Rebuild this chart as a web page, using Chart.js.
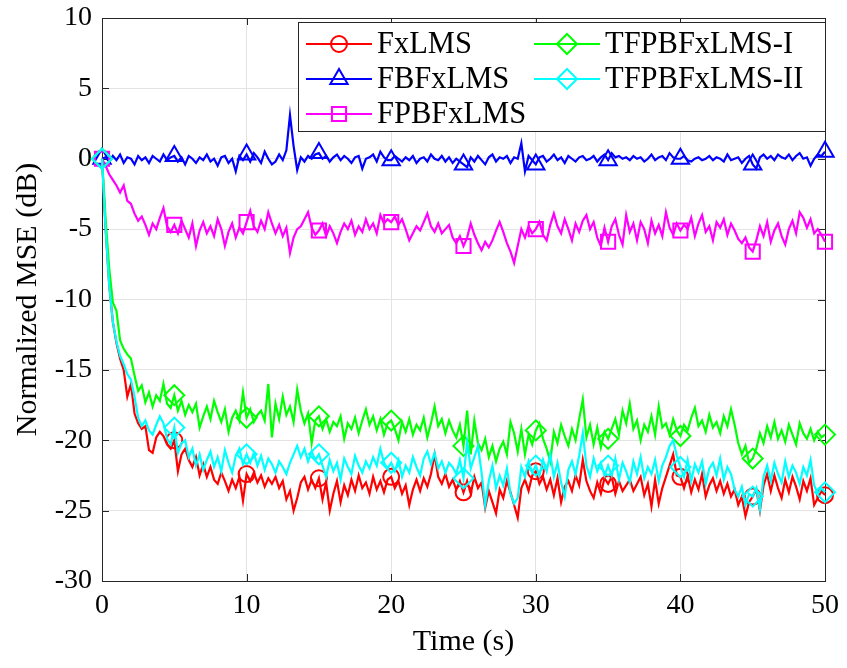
<!DOCTYPE html>
<html>
<head>
<meta charset="utf-8">
<title>Normalized MSE</title>
<script src="https://cdn.jsdelivr.net/npm/chart.js@4.4.1/dist/chart.umd.min.js"></script>
<style>
  html, body { margin: 0; padding: 0; background: #fff; }
  #wrap { width: 847px; height: 668px; }
</style>
</head>
<body>
<div id="wrap"><canvas id="mse"></canvas></div>
<script>
// time axis: one sample every 0.25 s, markers every 5 s
const times = Array.from({ length: 201 }, (_, i) => i * 0.25);
const markerEvery = 20;

const fxlms = [
  0, -5.0, -9.0, -11.6, -13.1, -14.2, -15.0, -16.9, -16.0, -18.1, -18.8, -19.2, -19.0, -20.7, -20.9, -19.8, -19.4, -19.7, -20.3, -20.6,
  -20.0, -22.2, -21.0, -20.6, -21.4, -21.9, -21.2, -22.5, -21.7, -22.6, -21.9, -22.8, -23.1, -22.3, -22.9, -23.6, -22.8, -23.4, -22.6, -24.3,
  -22.4, -22.9, -22.3, -23.0, -22.5, -23.3, -22.7, -23.1, -22.6, -23.4, -22.9, -24.2, -23.6, -25.0, -24.1, -23.0, -22.6, -23.5, -22.8, -23.4,
  -22.7, -24.2, -23.0, -25.0, -23.8, -22.9, -24.4, -23.2, -23.9, -22.8, -23.6, -22.5, -23.4, -23.0, -23.8, -22.6, -23.5, -22.9, -23.7, -22.8,
  -22.6, -23.4, -22.9, -23.8, -23.2, -24.6, -23.5, -22.8, -23.6, -22.7, -23.3, -22.4, -21.0, -22.6, -23.1, -22.4, -23.3, -22.8, -23.5, -22.9,
  -23.7, -22.9, -23.8, -22.6, -23.4, -23.0, -24.8, -23.6, -24.4, -25.2, -23.5, -24.1, -22.9, -23.7, -24.6, -25.5, -23.4, -22.8, -23.6, -22.5,
  -22.2, -23.1, -22.6, -23.5, -22.8, -23.9, -22.7, -24.4, -23.3, -22.9, -23.6, -22.5, -23.2, -21.4, -22.9, -23.6, -24.1, -23.0, -23.8, -22.7,
  -23.1, -22.6, -23.8, -22.9, -23.6, -23.2, -22.8, -23.6, -23.1, -22.6, -23.9, -23.1, -24.7, -22.8, -24.5, -23.4, -22.6, -21.8, -21.0, -22.5,
  -22.6, -23.4, -22.5, -23.7, -22.8, -23.5, -22.4, -24.0, -23.2, -22.7, -23.6, -22.9, -23.8, -23.1, -24.0, -23.5, -24.6, -24.0, -25.4, -24.4,
  -24.0, -23.5, -25.0, -23.2, -22.4, -23.6, -22.5, -23.4, -24.1, -22.8, -23.7, -22.6, -23.3, -24.2, -22.9, -23.6, -22.7, -24.6, -24.1, -23.6,
  -23.9
];

const fbfxlms = [
  0, 0.1, -0.2, 0.2, -0.1, 0.3, -0.3, 0.1, 0.0, -0.4, 0.2, -0.1, 0.1, -0.3, 0.2, 0.0, -0.2, 0.3, -0.1, 0.1,
  0.2, -0.2, 0.1, -0.4, 0.2, 0.0, -0.3, 0.1, -0.1, 0.3, -0.2, 0.0, -0.5, 0.1, 0.2, -0.3, 0.0, -0.9, 0.2, -0.1,
  0.3, -0.2, 0.4, 0.1, -0.3, 0.5, 0.0, -0.4, -0.2, 0.3, -0.1, 0.6, 3.1, 0.9, -0.8, 0.1, -0.2, 0.2, 0.0, 0.3,
  0.4, 0.0, 0.2, -0.2, 0.1, 0.3, -0.1, 0.2, 0.0, -0.3, 0.1, 0.2, -0.7, 0.0, 0.1, 0.3, -0.2, 0.5, 0.1, -0.1,
  -0.1, 0.2, 0.0, -0.2, 0.1, -0.1, 0.2, -0.3, 0.0, 0.1, -0.2, 0.3, 0.0, -0.1, 0.2, -0.2, 0.1, -0.3, 0.0, -0.2,
  -0.4, -0.6, 0.1, -0.2, 0.2, -0.1, -0.4, 0.1, 0.3, -0.2, 0.1, 0.0, 0.2, -0.3, 0.1, 0.0, 1.1, -0.9, 0.2, -0.1,
  -0.4, 0.1, 0.2, -0.2, 0.0, 0.3, -0.1, 0.1, -0.3, 0.2, 0.0, -0.2, 0.1, 0.2, -0.1, 0.0, 0.2, -0.2, 0.1, 0.3,
  -0.1, 0.4, 0.1, 0.2, 0.0, 0.1, -0.1, 0.2, 0.0, 0.1, -0.2, 0.0, 0.3, -0.1, 0.1, 0.2, -0.1, 0.4, 0.1, 0.0,
  0.0, 0.2, -0.1, -0.2, 0.0, 0.1, -0.1, 0.0, 0.2, -0.1, 0.1, 0.0, -0.2, 0.3, -0.1, 0.0, 0.1, -0.3, 0.0, 0.2,
  -0.4, -0.7, 0.1, 0.3, 0.0, 0.2, -0.1, 0.3, 0.1, 0.0, 0.3, -0.1, 0.2, 0.4, 0.0, 0.1, -0.5, 0.0, 0.3, 0.2,
  0.5
];

const fpbfxlms = [
  0, -0.5, -1.1, -1.5, -1.9, -2.4, -1.9, -3.0, -3.2, -3.9, -4.4, -4.1, -4.7, -5.4, -4.6, -5.0, -4.2, -3.5, -4.8, -5.2,
  -4.7, -5.3, -4.4, -5.0, -5.6, -4.6, -6.2, -5.1, -4.5, -5.3, -4.8, -5.5, -4.3, -5.0, -6.2, -5.2, -4.6, -5.6, -4.9, -5.3,
  -4.5, -3.7, -4.8, -5.2, -4.4, -5.0, -3.8, -4.6, -5.3, -4.7, -5.5, -4.9, -6.7, -5.6, -5.0, -4.8, -4.3, -3.8, -4.9, -5.4,
  -5.1, -4.6, -5.5, -4.8, -5.3, -6.0, -5.2, -4.6, -5.0, -4.4, -5.4, -4.8, -5.2, -4.3, -5.0, -4.6, -5.3, -4.0, -4.6, -4.3,
  -4.5, -4.1, -4.7, -4.3, -5.0, -5.8, -5.3, -4.8, -5.1, -4.5, -3.9, -4.8, -5.2, -4.6, -5.3, -5.0, -4.7, -5.6, -6.0, -5.5,
  -6.2, -5.6, -4.6, -5.4, -6.0, -6.5, -5.9, -6.3, -5.8, -5.1, -4.5, -5.2, -6.0, -6.6, -7.4, -6.2, -5.0, -5.6, -4.8, -5.3,
  -5.0, -4.5, -5.4, -5.8, -4.7, -3.9, -4.8, -5.3, -4.3, -5.0, -5.8, -4.6, -5.2, -4.4, -4.0, -5.0, -4.5, -5.6, -6.2, -4.9,
  -5.9, -4.8, -4.3, -5.4, -6.1, -4.0, -5.2, -4.6, -5.8, -4.5, -5.0, -6.0, -4.4, -5.3, -4.7, -5.5, -3.8, -4.9, -5.4, -4.6,
  -5.1, -4.7, -5.0, -4.2, -5.5, -4.6, -4.0, -5.2, -4.8, -5.8, -4.5, -4.9, -4.3, -5.4, -4.6, -5.1, -5.7, -6.0, -5.6, -6.3,
  -6.6, -5.8, -4.8, -5.5, -4.5, -5.9, -5.1, -4.6, -5.5, -6.1, -5.0, -4.4, -5.3, -3.8, -4.2, -4.9, -4.3, -5.3, -5.0, -5.4,
  -5.9
];

const tfpbI = [
  0, -4.3, -7.8, -10.2, -10.8, -12.9, -13.5, -13.9, -14.2, -15.4, -16.5, -16.1, -17.3, -16.6, -17.6, -16.8, -17.2, -16.0, -17.4, -17.7,
  -16.8, -17.9, -17.2, -18.2, -17.5, -18.0, -17.4, -19.1, -18.3, -17.6, -18.5, -17.2, -18.0, -18.7, -17.8, -19.4, -18.4, -17.9, -18.6, -16.6,
  -18.4, -17.8, -18.7, -18.2, -17.9, -18.6, -16.0, -19.8, -17.4, -18.5, -16.9, -18.2, -17.6, -18.7, -16.4, -17.9, -18.8, -18.1, -20.2, -18.6,
  -18.3, -19.2, -18.5, -19.4, -18.7, -19.0, -18.3, -19.9, -18.8, -19.2, -18.4, -19.5, -18.6, -17.8, -18.9, -18.3, -19.3, -18.5, -19.6, -18.8,
  -18.6, -19.2, -20.0, -18.7, -19.4, -18.5, -19.6, -18.9, -19.3, -18.4, -19.8, -18.8, -17.6, -19.0, -18.5, -19.5, -18.6, -19.3, -19.8, -18.9,
  -20.4, -17.9, -21.0, -18.6, -20.2, -20.7, -19.9, -21.2, -20.4, -21.5, -20.6, -20.1, -21.0, -18.7, -19.5, -20.8, -19.2, -21.0, -19.6, -20.3,
  -19.3, -18.8, -19.9, -20.6, -21.5, -19.4, -20.2, -18.9, -19.7, -20.4, -19.2, -20.0, -18.5, -17.1, -19.8, -18.9, -20.3, -19.1, -20.5, -19.4,
  -19.9, -19.2, -18.5, -19.6, -17.9, -18.8, -17.4, -19.2, -18.6, -20.0, -18.9, -19.4, -18.3, -19.6, -17.6, -19.1, -18.8, -19.6, -18.5, -19.3,
  -19.7, -18.9, -19.3, -18.4, -17.7, -19.0, -18.6, -19.4, -18.2, -19.1, -18.7, -19.5, -18.3, -19.0, -17.8, -18.9, -20.2, -21.0, -20.4, -21.6,
  -21.3, -20.6, -19.5, -20.2, -19.0, -19.8, -18.7, -19.9, -19.3, -20.1, -18.9, -19.6, -20.3, -18.8, -19.5, -19.9, -19.2, -20.0, -19.4, -19.8,
  -19.6
];

const tfpbII = [
  0, -5.0, -9.0, -11.6, -13.0, -14.0, -14.6, -15.3, -15.7, -16.9, -18.4, -19.0, -18.6, -19.3, -19.6, -18.9, -18.3, -18.8, -19.9, -20.3,
  -19.1, -20.9, -20.2, -20.0, -21.2, -20.6, -21.8, -21.0, -22.1, -21.4, -20.8, -21.9, -21.2, -22.2, -20.7, -21.6, -22.3, -21.1, -20.6, -21.7,
  -21.0, -21.6, -20.9, -21.8, -21.1, -22.1, -21.3, -21.7, -22.3, -21.5, -21.9, -22.4, -21.6, -21.0, -20.4, -21.2, -20.6, -21.5, -20.8, -21.4,
  -21.0, -21.8, -22.6, -21.4, -22.2, -21.6, -22.8, -21.3, -21.9, -22.4, -21.1, -21.8, -22.3, -21.5, -22.0, -21.2, -21.8, -20.6, -21.6, -22.0,
  -21.6, -22.2, -21.4, -22.6, -21.8, -22.3, -21.2, -21.9, -22.5, -21.3, -20.8, -21.7, -20.9, -22.0, -21.5, -22.3, -21.6, -21.9, -22.4, -21.4,
  -22.7, -20.1, -22.0, -21.2, -20.4, -22.3, -24.6, -22.9, -21.8, -23.4, -22.5, -23.2, -22.0, -23.8, -24.5, -24.1, -21.9, -22.6, -21.5, -22.3,
  -21.8, -22.5, -21.4, -22.2, -21.0, -22.6, -21.6, -23.0, -24.0, -22.1, -21.5, -22.4, -21.1, -19.5, -21.8, -22.6, -21.3, -22.2, -21.6, -22.5,
  -21.8, -22.5, -21.3, -22.8, -21.6, -22.2, -23.0, -21.5, -22.4, -21.2, -22.7, -21.9, -22.4, -21.4, -22.9, -21.8, -21.2, -20.4, -20.0, -21.1,
  -21.9, -22.6, -21.4, -22.9, -21.7, -22.3, -21.5, -23.1, -22.0, -21.6, -22.5, -21.3, -22.8, -21.9, -22.4, -23.5, -24.0, -23.3, -24.6, -23.8,
  -24.0, -23.4, -24.9, -22.6, -21.8, -22.9, -21.6, -22.4, -23.0, -21.5, -22.6, -21.8, -22.3, -23.1, -21.9, -22.5, -21.4, -23.2, -23.8, -23.4,
  -23.7
];

const FONT = '"Liberation Serif", "Times New Roman", serif';
const INK = '#262626';

function series(label, values, color, pointStyle, radius, order) {
  return {
    label,
    data: values.map((v, i) => ({ x: times[i], y: v })),
    borderColor: color,
    borderWidth: 2.2,
    pointStyle,
    pointRadius: c => (c.dataIndex % markerEvery === 0 ? radius : 0),
    pointBorderColor: color,
    pointBackgroundColor: 'rgba(0,0,0,0)',
    pointBorderWidth: 2,
    legendRadius: radius,
    tension: 0,
    clip: 14,
    order
  };
}

// MATLAB-like box with inward ticks
const axesBox = {
  id: 'axesBox',
  beforeDatasetsDraw(chart) {
    const { ctx, chartArea: a, scales } = chart;
    ctx.save();
    ctx.strokeStyle = INK;
    ctx.lineWidth = 1;
    ctx.beginPath();
    scales.x.ticks.forEach(t => {
      const px = Math.round(scales.x.getPixelForValue(t.value)) + 0.5;
      ctx.moveTo(px, a.bottom); ctx.lineTo(px, a.bottom - 7);
      ctx.moveTo(px, a.top); ctx.lineTo(px, a.top + 7);
    });
    scales.y.ticks.forEach(t => {
      const py = Math.round(scales.y.getPixelForValue(t.value)) + 0.5;
      ctx.moveTo(a.left, py); ctx.lineTo(a.left + 7, py);
      ctx.moveTo(a.right, py); ctx.lineTo(a.right - 7, py);
    });
    ctx.stroke();
    ctx.strokeRect(Math.round(a.left) + 0.5, Math.round(a.top) + 0.5, Math.round(a.right - a.left), Math.round(a.bottom - a.top));
    ctx.restore();
  }
};

// two-column legend in the upper right corner
const boxLegend = {
  id: 'boxLegend',
  afterDraw(chart) {
    const { ctx, chartArea: a } = chart;
    const bx = 298, by = 22, bw = a.right - 298, bh = 109;
    ctx.save();
    ctx.fillStyle = '#fff';
    ctx.fillRect(bx, by, bw, bh);
    ctx.strokeStyle = INK;
    ctx.lineWidth = 1;
    ctx.strokeRect(bx + 0.5, by + 0.5, bw, bh);
    ctx.font = '30.5px ' + FONT;
    ctx.textBaseline = 'middle';
    chart.data.datasets.forEach((ds, i) => {
      const col = i < 3 ? 0 : 1;
      const row = i < 3 ? i : i - 3;
      const x0 = bx + 8 + col * 228;
      const y = by + 22 + row * 35;
      ctx.strokeStyle = ds.borderColor;
      ctx.lineWidth = 2;
      ctx.beginPath();
      ctx.moveTo(x0, y); ctx.lineTo(x0 + 66, y);
      ctx.stroke();
      ctx.fillStyle = 'rgba(0,0,0,0)';
      Chart.helpers.drawPoint(ctx, {
        pointStyle: ds.pointStyle, radius: ds.legendRadius, borderWidth: 2, rotation: 0
      }, x0 + 33, y);
      ctx.fillStyle = '#000';
      ctx.fillText(ds.label, x0 + 71, y + 1);
    });
    ctx.restore();
  }
};

new Chart(document.getElementById('mse'), {
  type: 'line',
  data: {
    datasets: [
      series('FxLMS', fxlms, '#ff0000', 'circle', 8, 4),
      series('FBFxLMS', fbfxlms, '#0000ff', 'triangle', 10, 3),
      series('FPBFxLMS', fpbfxlms, '#ff00ff', 'rect', 10, 2),
      series('TFPBFxLMS-I', tfpbI, '#00ff00', 'rectRot', 10, 1),
      series('TFPBFxLMS-II', tfpbII, '#00ffff', 'rectRot', 10, 0)
    ]
  },
  options: {
    responsive: true,
    maintainAspectRatio: false,
    animation: false,
    layout: { padding: { top: 18, right: 21, left: 0, bottom: 0 } },
    plugins: { legend: { display: false }, tooltip: { enabled: false } },
    scales: {
      x: {
        type: 'linear', min: 0, max: 50,
        afterFit: s => { s.height = 87; },
        ticks: { stepSize: 10, color: '#000', padding: 8, font: { family: FONT, size: 28 } },
        grid: { color: '#e3e3e3', drawTicks: false },
        border: { display: false },
        title: { display: true, text: 'Time (s)', color: '#000', padding: { top: 0, bottom: 8 }, font: { family: FONT, size: 30 } }
      },
      y: {
        min: -30, max: 10,
        afterFit: s => { s.width = 102; s.paddingTop = 0; s.paddingBottom = 0; },
        ticks: { stepSize: 5, color: '#000', padding: 10, font: { family: FONT, size: 28 } },
        grid: { color: '#e3e3e3', drawTicks: false },
        border: { display: false },
        title: { display: true, text: 'Normalized MSE (dB)', color: '#000', padding: { top: 10, bottom: 0 }, font: { family: FONT, size: 30 } }
      }
    }
  },
  plugins: [axesBox, boxLegend]
});
</script>
</body>
</html>
